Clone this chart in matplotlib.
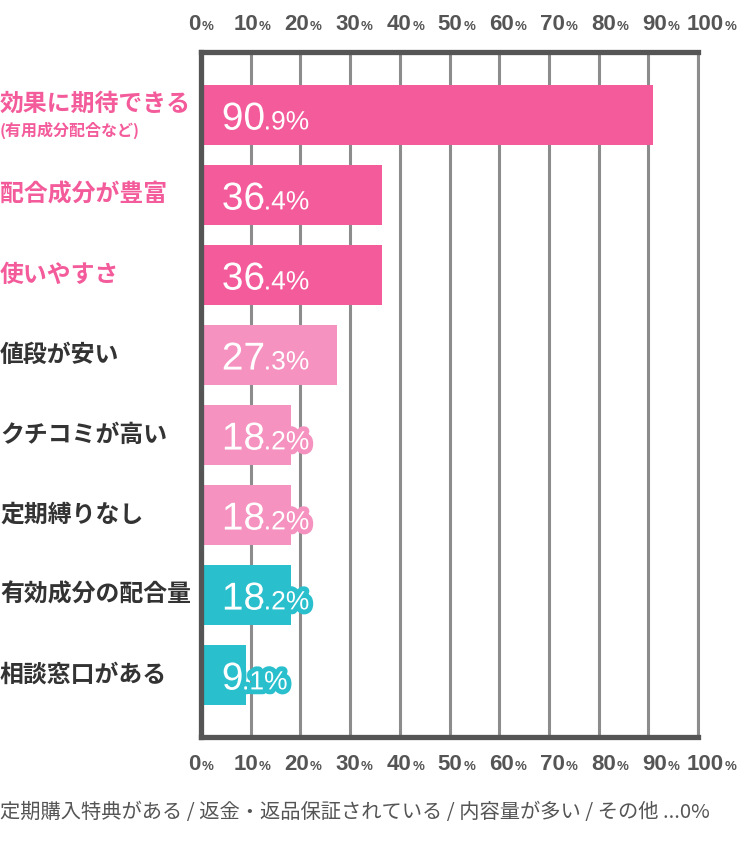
import matplotlib
matplotlib.use("Agg")
import matplotlib.pyplot as plt
import matplotlib.patheffects as pe
import matplotlib.transforms as mtransforms
from matplotlib.offsetbox import AnnotationBbox, HPacker, TextArea
import numpy as np

# data
categories = ["効果に期待できる", "配合成分が豊富", "使いやすさ", "値段が安い",
              "クチコミが高い", "定期縛りなし", "有効成分の配合量", "相談窓口がある"]
values = [90.9, 36.4, 36.4, 27.3, 18.2, 18.2, 18.2, 9.1]
first_note = "(有用成分配合など)"
ticks = [0, 10, 20, 30, 40, 50, 60, 70, 80, 90, 100]
footer = "定期購入特典がある / 返金・返品保証されている / 内容量が多い / その他 ...0%"

PINK = "#F35B9B"
LPINK = "#F592BF"
CYAN = "#29BFCD"
bar_colors = [PINK, PINK, PINK, LPINK, LPINK, LPINK, CYAN, CYAN]
label_colors = [PINK, PINK, PINK, "#333333", "#333333", "#333333", "#333333", "#333333"]
FRAME = "#555555"
GRID = "#8C8C8C"

JP = ["Noto Sans CJK JP", "DejaVu Sans"]
NUM = ["Liberation Sans", "DejaVu Sans"]
LABEL_SPREAD = 1.028   # the tick label row is a touch wider than the grid

fig = plt.figure(figsize=(7.5, 8.55), dpi=100)
ax = fig.add_axes([201 / 750, 118 / 855, 497 / 750, 685 / 855])

y = np.arange(len(categories))
ax.barh(y, values, height=0.75, color=bar_colors, zorder=2)
ax.set_xlim(0, 100)
ax.set_ylim(len(categories) - 1 + 0.775, -0.7875)

ax.set_xticks(ticks)
ax.set_yticks([])
ax.grid(axis="x", color=GRID, lw=2.2, zorder=0)
ax.set_axisbelow(True)
ax.tick_params(axis="x", length=0, labelbottom=False)
for s in ("top", "left", "bottom"):
    ax.spines[s].set_color(FRAME)
    ax.spines[s].set_linewidth(3.8)
ax.spines["right"].set_color(GRID)
ax.spines["right"].set_linewidth(2.2)

# tick labels: number plus a small percent sign, top and bottom
for t in ticks:
    for yy, off in ((1.0, 20), (0.0, -20)):
        box = HPacker(children=[
            TextArea(str(t), textprops=dict(fontsize=16, family=NUM,
                                            weight="bold", color=FRAME)),
            TextArea("%", textprops=dict(fontsize=9.5, family=NUM,
                                         weight="bold", color=FRAME)),
        ], align="baseline", pad=0, sep=0.5)
        ab = AnnotationBbox(box, (t * LABEL_SPREAD, yy),
                            xycoords=("data", "axes fraction"),
                            xybox=(0, off), boxcoords="offset points",
                            box_alignment=(0.5, 0.5), frameon=False,
                            annotation_clip=False)
        ax.add_artist(ab)

# value labels
for i, v in enumerate(values):
    whole, dec = f"{v:.1f}".split(".")
    stroke = [pe.Stroke(linewidth=7, foreground=bar_colors[i]), pe.Normal()]
    big = ax.annotate(whole, xy=(0, i), xycoords="data", xytext=(15, -10.5),
                      textcoords="offset points", ha="left", va="baseline",
                      fontsize=28, family=NUM, color="white", zorder=5,
                      path_effects=stroke)
    ax.annotate(f".{dec}%", xy=(1, 0), xycoords=big, xytext=(-1, 5.9),
                textcoords="offset points", ha="left", va="baseline",
                fontsize=19, family=NUM, color="white", zorder=5,
                path_effects=stroke)

# category labels on the far left
trans = mtransforms.blended_transform_factory(fig.transFigure, ax.transData)
for i, c in enumerate(categories):
    yy = i - 0.14 if i == 0 else i
    ax.text(0.0, yy, c, transform=trans, ha="left", va="center",
            fontsize=17.2, weight="bold", family=JP, color=label_colors[i])
ax.text(0.0, 0.19, first_note, transform=trans, ha="left", va="center",
        fontsize=11.5, weight="bold", family=JP, color=PINK)

fig.text(0.0, 1 - 812 / 855, footer, ha="left", va="center", fontsize=14.6,
         family=JP, color=FRAME)

fig.savefig("out.png", dpi=100)
